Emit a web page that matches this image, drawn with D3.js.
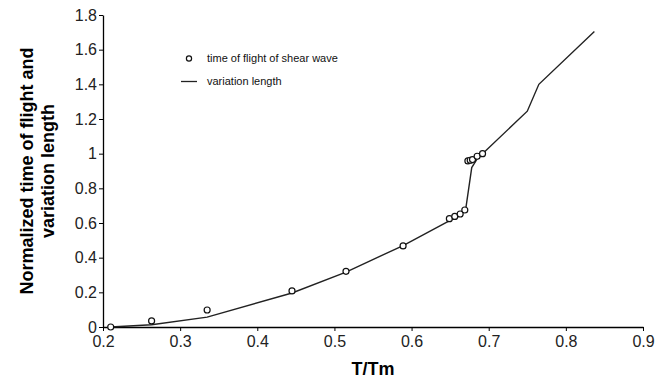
<!DOCTYPE html>
<html><head><meta charset="utf-8">
<script src="https://cdn.jsdelivr.net/npm/d3@7"></script>
<style>body{margin:0;background:#fff}svg{display:block}</style>
</head><body>
<script>
const pointX = [0.21, 0.263, 0.335, 0.445, 0.515, 0.589, 0.649, 0.656, 0.663, 0.669, 0.673, 0.676, 0.679, 0.685, 0.692];
const pointY = [0.0, 0.035, 0.098, 0.208, 0.321, 0.468, 0.625, 0.638, 0.652, 0.675, 0.958, 0.962, 0.966, 0.985, 1.0];
const lineX = [0.21, 0.263, 0.335, 0.445, 0.515, 0.589, 0.65, 0.67, 0.678, 0.685, 0.692, 0.75, 0.765, 0.837];
const lineY = [0.0, 0.013, 0.057, 0.196, 0.317, 0.47, 0.615, 0.675, 0.92, 0.97, 1.0, 1.245, 1.4, 1.705];
const xTicks = [0.2, 0.3, 0.4, 0.5, 0.6, 0.7, 0.8, 0.9];
const yTicks = [0, 0.2, 0.4, 0.6, 0.8, 1, 1.2, 1.4, 1.6, 1.8];
const legendLabels = ["time of flight of shear wave", "variation length"];

const W = 660, H = 382;
const svg = d3.select("body").append("svg").attr("width", W).attr("height", H);
const x = d3.scaleLinear().domain([0.2, 0.9]).range([103, 643]);
const y = d3.scaleLinear().domain([0, 1.8]).range([327, 15]);
const font = "Liberation Sans, Arial, sans-serif";

const xa = svg.append("g").attr("transform", `translate(0,${y(0)})`)
  .call(d3.axisBottom(x).tickValues(xTicks).tickSize(4).tickSizeOuter(0).tickFormat(d => String(+d.toFixed(1))));
const ya = svg.append("g").attr("transform", `translate(${x(0.2)},0)`)
  .call(d3.axisLeft(y).tickValues(yTicks).tickSize(4).tickSizeOuter(0).tickFormat(d => String(+d.toFixed(1))));
[xa, ya].forEach(g => {
  g.select(".domain").attr("stroke", "#000").attr("stroke-width", 1.3);
  g.selectAll(".tick line").attr("stroke", "#000").attr("stroke-width", 1);
  g.selectAll(".tick text").attr("fill", "#222").style("font-family", font).style("font-size", "16px");
});
xa.selectAll(".tick text").attr("dy", "0.85em").attr("y", 6);
ya.selectAll(".tick text").attr("x", -6);

const lineData = lineX.map((v, i) => [v, lineY[i]]);
svg.append("path").datum(lineData)
  .attr("fill", "none").attr("stroke", "#222").attr("stroke-width", 1.4)
  .attr("d", d3.line().x(d => x(d[0])).y(d => y(d[1])));

const pts = pointX.map((v, i) => [v, pointY[i]]);
svg.append("g").selectAll("circle").data(pts).join("circle")
  .attr("cx", d => x(d[0])).attr("cy", d => y(d[1])).attr("r", 3)
  .attr("fill", "#fff").attr("stroke", "#111").attr("stroke-width", 1.2);

// legend
const lg = svg.append("g");
lg.append("circle").attr("cx", 189).attr("cy", 58.5).attr("r", 2.6)
  .attr("fill", "#fff").attr("stroke", "#111").attr("stroke-width", 1.2);
lg.append("line").attr("x1", 181).attr("x2", 197).attr("y1", 81.5).attr("y2", 81.5)
  .attr("stroke", "#222").attr("stroke-width", 1.3);
lg.selectAll("text").data(legendLabels).join("text")
  .attr("x", 207).attr("y", (d, i) => 58.5 + i * 23).attr("dy", "0.35em")
  .style("font-family", font).style("font-size", "11px").attr("fill", "#111").text(d => d);

svg.append("text").attr("x", x(0.55)).attr("y", 375)
  .attr("text-anchor", "middle").style("font-family", font).style("font-size", "18px")
  .style("font-weight", "bold").text("T/Tm");

const yt = svg.append("text").attr("transform", `translate(33,${y(0.9)}) rotate(-90)`)
  .attr("text-anchor", "middle").style("font-family", font).style("font-size", "18px").style("font-weight", "bold");
yt.append("tspan").attr("x", 0).attr("dy", 0).text("Normalized time of flight and");
yt.append("tspan").attr("x", 0).attr("dy", 21).text("variation length");
</script>
</body></html>
